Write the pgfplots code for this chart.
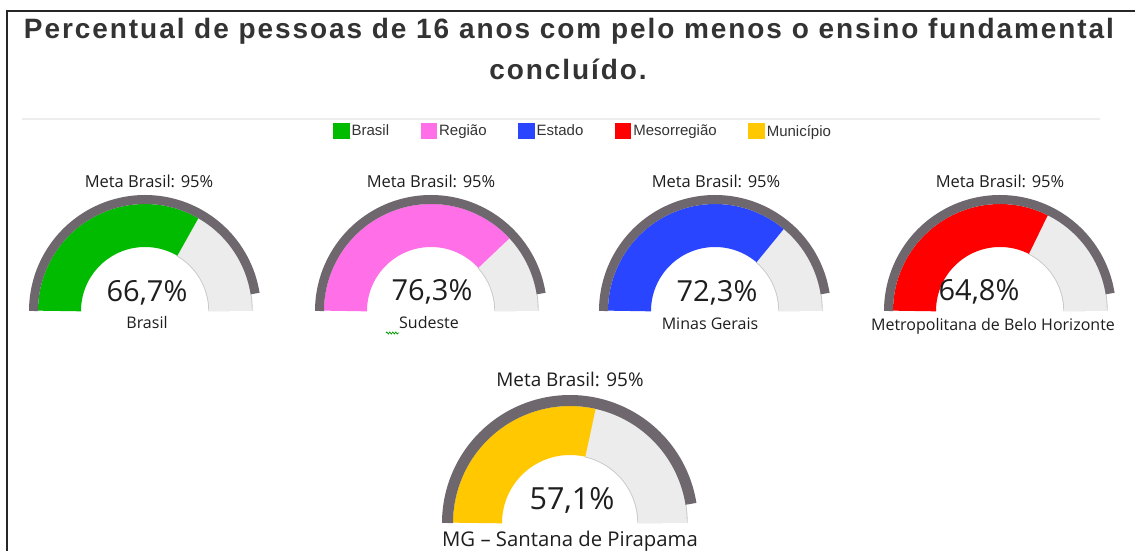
\documentclass[border=0pt]{standalone}
\usepackage{pgfplots}
\pgfplotsset{compat=1.18}
\usetikzlibrary{decorations.pathmorphing}
\usepackage{fontspec}
\setmainfont{Liberation Sans}
\newfontfamily\gfont{Open Sans}
\newfontfamily\titlefont[LetterSpace=6.9]{Liberation Sans}
\definecolor{cgreen}{RGB}{0,187,0}
\definecolor{cpink}{RGB}{255,112,232}
\definecolor{cblue}{RGB}{42,69,255}
\definecolor{cred}{RGB}{255,0,0}
\definecolor{cyellow}{RGB}{255,200,0}
\definecolor{cdark}{RGB}{110,104,110}
\definecolor{clight}{RGB}{236,236,236}
\definecolor{cbord}{RGB}{200,200,200}
\definecolor{ctitle}{RGB}{51,51,51}
\definecolor{ctext}{RGB}{30,30,30}
% #1 cx, #2 cy, #3 mid radius, #4 band width, #5 goal-band radius, #6 goal-band width, #7 value, #8 colour
\newcommand\gauge[8]{%
  \addplot[forget plot, cbord, line width=#4pt+1.4pt, domain=#7:100, samples=80]
    ({#1+#3*cos(180-1.8*x)},{#2+#3*sin(180-1.8*x)});
  \addplot[forget plot, clight, line width=#4pt-0.4pt, domain=#7:100, samples=80]
    ({#1+#3*cos(180-1.8*x)},{#2+#3*sin(180-1.8*x)});
  \addplot[forget plot, #8, line width=#4pt, domain=0:#7, samples=80]
    ({#1+#3*cos(180-1.8*x)},{#2+#3*sin(180-1.8*x)});
  \addplot[forget plot, cdark, line width=#6pt, domain=0:95, samples=100]
    ({#1+#5*cos(180-1.8*x)},{#2+#5*sin(180-1.8*x)});
}
\begin{document}
\begin{tikzpicture}
\fill[white] (0,0) rectangle (1135pt,551pt);
\begin{axis}[
  at={(0,0)}, anchor=south west,
  x=1pt, y=1pt, xmin=0, xmax=1135, ymin=0, ymax=551,
  hide axis, clip=false,
  legend image code/.code={\fill[#1, draw=none] (0pt,-8pt) rectangle (16.5pt,8.5pt);},
  legend style={draw=none, fill=none, at={(axis description cs:0.5137,0.762)},
    anchor=center, legend columns=5, font=\fontsize{15}{18}\selectfont,
    text=ctitle, inner sep=0pt,
    /tikz/every even column/.append style={column sep=29.5pt}},
]
\addlegendimage{fill=cgreen}\addlegendentry{Brasil}
\addlegendimage{fill=cpink}\addlegendentry{Região}
\addlegendimage{fill=cblue}\addlegendentry{Estado}
\addlegendimage{fill=cred}\addlegendentry{Mesorregião}
\addlegendimage{fill=cyellow}\addlegendentry{Município}

% frame and separator
\draw[line width=2pt, black!85] (axis cs:7,0) -- (axis cs:7,540) -- (axis cs:1135,540);
\draw[line width=1.5pt, black!7] (axis cs:22,432) -- (axis cs:1100,432);

% title
\node[font=\titlefont\bfseries\fontsize{28}{33}\selectfont, text=ctitle, anchor=base]
  at (axis cs:569,512) {Percentual de pessoas de 16 anos com pelo menos o ensino fundamental};
\node[font=\titlefont\bfseries\fontsize{28}{33}\selectfont, text=ctitle, anchor=base]
  at (axis cs:568,471) {concluído.};

% gauges
\gauge{145}{240}{85.5}{43}{111.5}{9}{66.7}{cgreen}
\gauge{431}{240}{85.5}{43}{111.5}{9}{76.3}{cpink}
\gauge{715}{240}{85.5}{43}{111.5}{9}{72.3}{cblue}
\gauge{1000}{240}{85.5}{43}{111.5}{9}{64.8}{cred}
\gauge{570}{28}{92.5}{49}{122.5}{11}{57.1}{cyellow}

% gauge texts
\tikzset{meta/.style={font=\gfont\fontsize{16.5}{20}\selectfont, text=ctext, anchor=base},
         val/.style={font=\gfont\fontsize{29}{34}\selectfont, text=ctext, anchor=base},
         lab/.style={font=\gfont\fontsize{16}{19}\selectfont, text=ctext, anchor=base}}
\node[meta] at (axis cs:149,363) {Meta Brasil: 95\%};
\node[meta] at (axis cs:431,363) {Meta Brasil: 95\%};
\node[meta] at (axis cs:716,363) {Meta Brasil: 95\%};
\node[meta] at (axis cs:1000,363) {Meta Brasil: 95\%};
\node[meta, font=\gfont\fontsize{18.9}{22}\selectfont] at (axis cs:570,164) {Meta Brasil: 95\%};

\node[val] at (axis cs:147,249) {66,7\%};
\node[val] at (axis cs:432,250) {76,3\%};
\node[val] at (axis cs:717,249) {72,3\%};
\node[val] at (axis cs:979,250) {64,8\%};
\node[val, font=\gfont\fontsize{30.5}{36}\selectfont] at (axis cs:572,41) {57,1\%};

\node[lab] at (axis cs:147,222) {Brasil};
\node[lab] at (axis cs:429,222) {Sudeste};
\node[lab] at (axis cs:710,221) {Minas Gerais};
\node[lab] at (axis cs:993,220) {Metropolitana de Belo Horizonte};
\node[lab, font=\gfont\fontsize{20.3}{24}\selectfont] at (axis cs:570,4) {MG – Santana de Pirapama};
\draw[green!60!black, line width=0.7pt, decorate, decoration={zigzag, amplitude=1pt, segment length=3pt}]
  (axis cs:386,218) -- (axis cs:399,218);
\end{axis}
\pgfresetboundingbox
\path[use as bounding box] (0,0) rectangle (1135pt,551pt);
\end{tikzpicture}
\end{document}
